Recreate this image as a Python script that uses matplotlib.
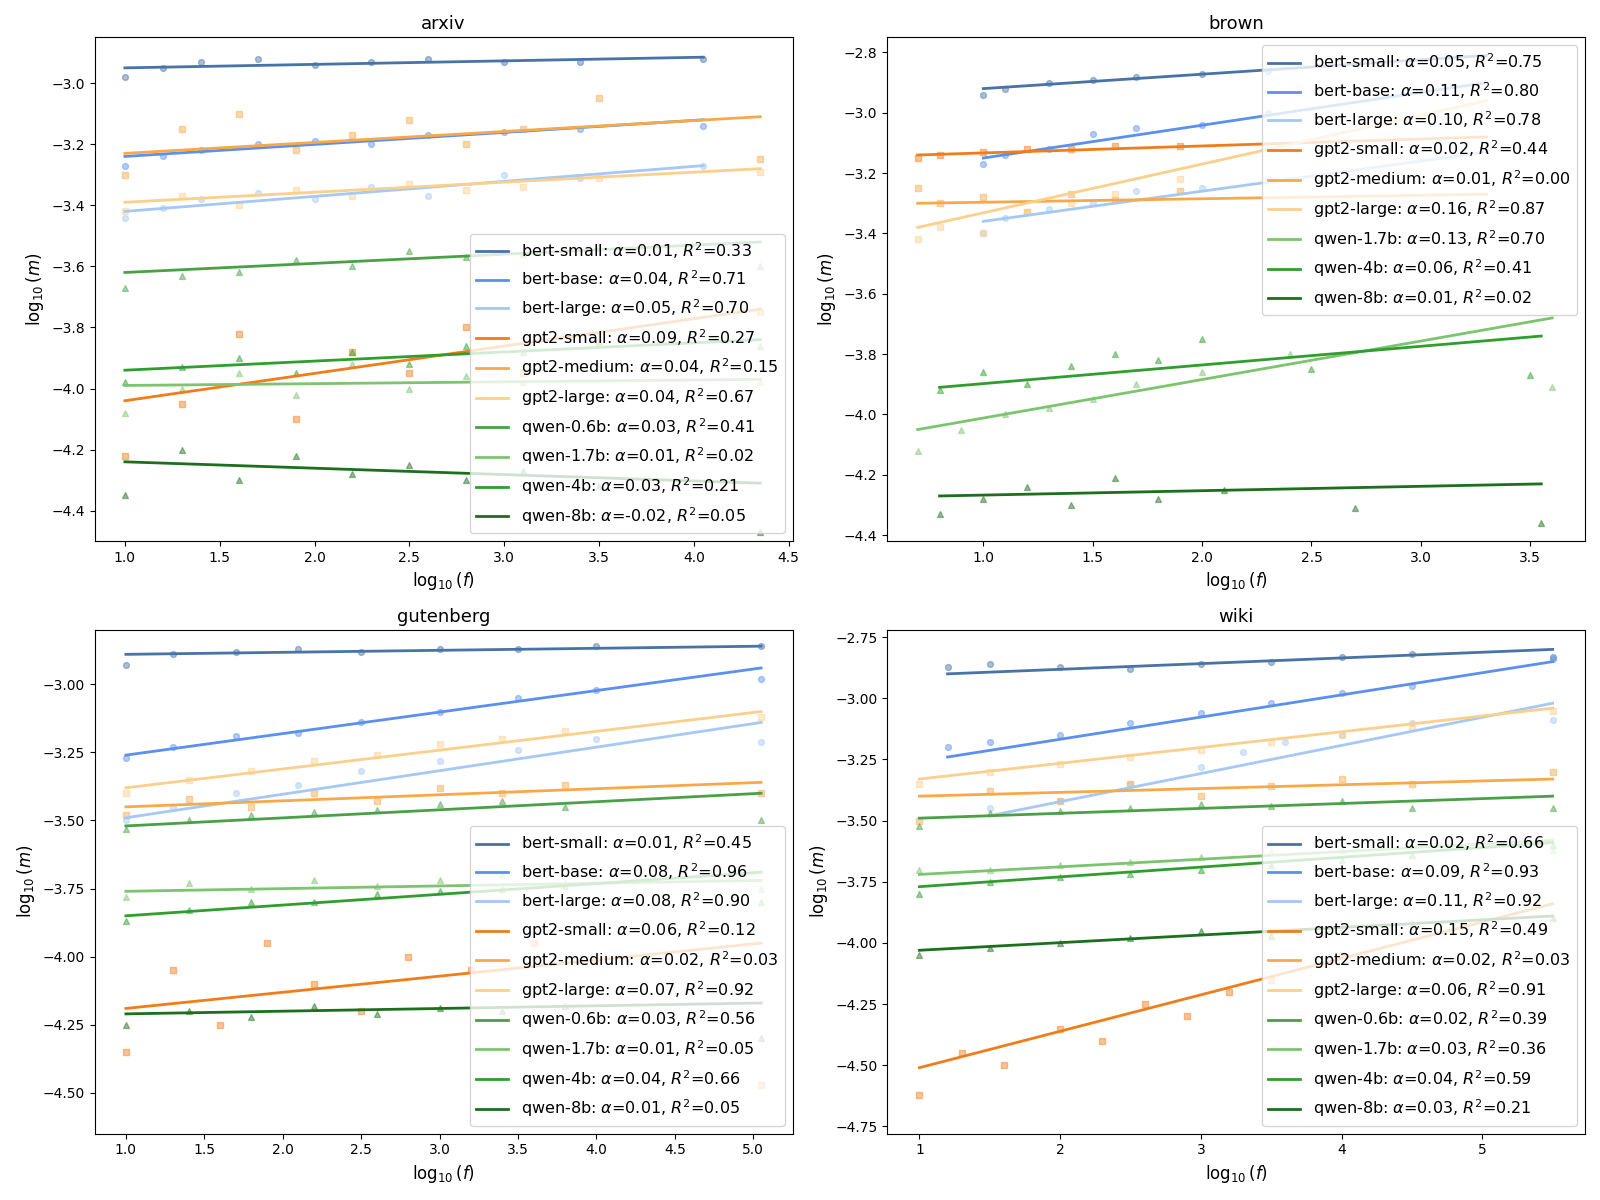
import matplotlib
matplotlib.use("Agg")
import matplotlib.pyplot as plt
import numpy as np

models = ["bert-small","bert-base","bert-large","gpt2-small","gpt2-medium","gpt2-large",
          "qwen-0.6b","qwen-1.7b","qwen-4b","qwen-8b"]
colors = {"bert-small":"#4873a6","bert-base":"#5b8ff0","bert-large":"#a5c8f5",
          "gpt2-small":"#f07d19","gpt2-medium":"#f7a94a","gpt2-large":"#fbcf8c",
          "qwen-0.6b":"#4aa047","qwen-1.7b":"#7cc46e","qwen-4b":"#2f9e2f","qwen-8b":"#1d6e1d"}
markers = {"bert":"o","gpt2":"s","qwen":"^"}

panels = ["arxiv","brown","gutenberg","wiki"]

# fit lines: (x0, x1, y0, y1), alpha, R2
fits = {
 "arxiv": {
  "bert-small":((1.0,4.05,-2.95,-2.915),"0.01","0.33"),
  "bert-base":((1.0,4.05,-3.24,-3.12),"0.04","0.71"),
  "bert-large":((1.0,4.05,-3.42,-3.27),"0.05","0.70"),
  "gpt2-small":((1.0,4.35,-4.04,-3.74),"0.09","0.27"),
  "gpt2-medium":((1.0,4.35,-3.23,-3.11),"0.04","0.15"),
  "gpt2-large":((1.0,4.35,-3.39,-3.28),"0.04","0.67"),
  "qwen-0.6b":((1.0,4.35,-3.62,-3.52),"0.03","0.41"),
  "qwen-1.7b":((1.0,4.35,-3.99,-3.97),"0.01","0.02"),
  "qwen-4b":((1.0,4.35,-3.94,-3.84),"0.03","0.21"),
  "qwen-8b":((1.0,4.35,-4.24,-4.31),"-0.02","0.05")},
 "brown": {
  "bert-small":((1.0,3.3,-2.92,-2.81),"0.05","0.75"),
  "bert-base":((1.0,3.3,-3.15,-2.90),"0.11","0.80"),
  "bert-large":((1.0,3.3,-3.36,-3.13),"0.10","0.78"),
  "gpt2-small":((0.7,3.3,-3.14,-3.08),"0.02","0.44"),
  "gpt2-medium":((0.7,3.3,-3.30,-3.27),"0.01","0.00"),
  "gpt2-large":((0.7,3.3,-3.38,-2.96),"0.16","0.87"),
  "qwen-1.7b":((0.7,3.6,-4.05,-3.68),"0.13","0.70"),
  "qwen-4b":((0.8,3.55,-3.91,-3.74),"0.06","0.41"),
  "qwen-8b":((0.8,3.55,-4.27,-4.23),"0.01","0.02")},
 "gutenberg": {
  "bert-small":((1.0,5.05,-2.89,-2.86),"0.01","0.45"),
  "bert-base":((1.0,5.05,-3.26,-2.94),"0.08","0.96"),
  "bert-large":((1.0,5.05,-3.49,-3.14),"0.08","0.90"),
  "gpt2-small":((1.0,5.05,-4.19,-3.95),"0.06","0.12"),
  "gpt2-medium":((1.0,5.05,-3.45,-3.36),"0.02","0.03"),
  "gpt2-large":((1.0,5.05,-3.38,-3.10),"0.07","0.92"),
  "qwen-0.6b":((1.0,5.05,-3.52,-3.40),"0.03","0.56"),
  "qwen-1.7b":((1.0,5.05,-3.76,-3.72),"0.01","0.05"),
  "qwen-4b":((1.0,5.05,-3.85,-3.69),"0.04","0.66"),
  "qwen-8b":((1.0,5.05,-4.21,-4.17),"0.01","0.05")},
 "wiki": {
  "bert-small":((1.2,5.5,-2.90,-2.80),"0.02","0.66"),
  "bert-base":((1.2,5.5,-3.24,-2.85),"0.09","0.93"),
  "bert-large":((1.5,5.5,-3.48,-3.02),"0.11","0.92"),
  "gpt2-small":((1.0,5.5,-4.51,-3.84),"0.15","0.49"),
  "gpt2-medium":((1.0,5.5,-3.40,-3.33),"0.02","0.03"),
  "gpt2-large":((1.0,5.5,-3.33,-3.04),"0.06","0.91"),
  "qwen-0.6b":((1.0,5.5,-3.49,-3.40),"0.02","0.39"),
  "qwen-1.7b":((1.0,5.5,-3.72,-3.58),"0.03","0.36"),
  "qwen-4b":((1.0,5.5,-3.77,-3.59),"0.04","0.59"),
  "qwen-8b":((1.0,5.5,-4.03,-3.89),"0.03","0.21")},
}

# scatter samples (x list, y list) read approximately
pts = {
 "arxiv": {
  "bert-small":([1.0,1.2,1.4,1.7,2.0,2.3,2.6,3.0,3.4,4.05],[-2.98,-2.95,-2.93,-2.92,-2.94,-2.93,-2.92,-2.93,-2.93,-2.92]),
  "bert-base":([1.0,1.2,1.4,1.7,2.0,2.3,2.6,3.0,3.4,4.05],[-3.27,-3.24,-3.22,-3.20,-3.19,-3.20,-3.17,-3.16,-3.15,-3.14]),
  "bert-large":([1.0,1.2,1.4,1.7,2.0,2.3,2.6,3.0,3.4,4.05],[-3.44,-3.41,-3.38,-3.36,-3.38,-3.34,-3.37,-3.30,-3.31,-3.27]),
  "gpt2-small":([1.0,1.3,1.6,1.9,2.2,2.5,2.8,3.1,3.5,4.35],[-4.22,-4.05,-3.82,-4.10,-3.88,-3.95,-3.80,-3.95,-3.85,-3.75]),
  "gpt2-medium":([1.0,1.3,1.6,1.9,2.2,2.5,2.8,3.1,3.5,4.35],[-3.30,-3.15,-3.10,-3.22,-3.17,-3.12,-3.20,-3.15,-3.05,-3.25]),
  "gpt2-large":([1.0,1.3,1.6,1.9,2.2,2.5,2.8,3.1,3.5,4.35],[-3.42,-3.37,-3.40,-3.35,-3.37,-3.33,-3.35,-3.34,-3.31,-3.29]),
  "qwen-0.6b":([1.0,1.3,1.6,1.9,2.2,2.5,2.8,3.1,3.5,4.35],[-3.67,-3.63,-3.62,-3.58,-3.60,-3.55,-3.57,-3.56,-3.54,-3.60]),
  "qwen-1.7b":([1.0,1.3,1.6,1.9,2.2,2.5,2.8,3.1,3.5,4.35],[-4.08,-4.00,-3.95,-4.02,-3.92,-4.00,-3.96,-3.98,-3.92,-3.98]),
  "qwen-4b":([1.0,1.3,1.6,1.9,2.2,2.5,2.8,3.1,3.5,4.35],[-3.98,-3.93,-3.90,-3.95,-3.88,-3.92,-3.86,-3.88,-3.85,-3.86]),
  "qwen-8b":([1.0,1.3,1.6,1.9,2.2,2.5,2.8,3.1,3.5,4.35],[-4.35,-4.20,-4.30,-4.22,-4.28,-4.25,-4.30,-4.27,-4.32,-4.47])},
 "brown": {
  "bert-small":([1.0,1.1,1.3,1.5,1.7,2.0,2.3],[-2.94,-2.92,-2.90,-2.89,-2.88,-2.87,-2.86]),
  "bert-base":([1.0,1.1,1.3,1.5,1.7,2.0,2.3],[-3.17,-3.14,-3.12,-3.07,-3.05,-3.04,-3.00]),
  "bert-large":([1.0,1.1,1.3,1.5,1.7,2.0,2.3],[-3.40,-3.35,-3.32,-3.30,-3.26,-3.25,-3.22]),
  "gpt2-small":([0.7,0.8,1.0,1.2,1.4,1.6,1.9],[-3.15,-3.14,-3.13,-3.12,-3.12,-3.11,-3.11]),
  "gpt2-medium":([0.7,0.8,1.0,1.2,1.4,1.6,1.9],[-3.25,-3.30,-3.28,-3.33,-3.27,-3.29,-3.26]),
  "gpt2-large":([0.7,0.8,1.0,1.2,1.4,1.6,1.9],[-3.42,-3.38,-3.40,-3.33,-3.30,-3.27,-3.22]),
  "qwen-1.7b":([0.7,0.9,1.1,1.3,1.5,1.7,2.0,2.4,3.6],[-4.12,-4.05,-4.00,-3.98,-3.95,-3.90,-3.86,-3.80,-3.91]),
  "qwen-4b":([0.8,1.0,1.2,1.4,1.6,1.8,2.0,2.5,3.5],[-3.92,-3.86,-3.90,-3.84,-3.80,-3.82,-3.75,-3.85,-3.87]),
  "qwen-8b":([0.8,1.0,1.2,1.4,1.6,1.8,2.1,2.7,3.55],[-4.33,-4.28,-4.24,-4.30,-4.21,-4.28,-4.25,-4.31,-4.36])},
 "gutenberg": {
  "bert-small":([1.0,1.3,1.7,2.1,2.5,3.0,3.5,4.0,5.05],[-2.93,-2.89,-2.88,-2.87,-2.88,-2.87,-2.87,-2.86,-2.86]),
  "bert-base":([1.0,1.3,1.7,2.1,2.5,3.0,3.5,4.0,5.05],[-3.27,-3.23,-3.19,-3.18,-3.14,-3.10,-3.05,-3.02,-2.98]),
  "bert-large":([1.0,1.3,1.7,2.1,2.5,3.0,3.5,4.0,5.05],[-3.50,-3.45,-3.40,-3.37,-3.32,-3.28,-3.24,-3.20,-3.21]),
  "gpt2-small":([1.0,1.3,1.6,1.9,2.2,2.5,2.8,3.2,3.6,5.05],[-4.35,-4.05,-4.25,-3.95,-4.10,-4.20,-4.00,-4.05,-3.95,-4.47]),
  "gpt2-medium":([1.0,1.4,1.8,2.2,2.6,3.0,3.4,3.8,5.05],[-3.48,-3.42,-3.45,-3.40,-3.43,-3.38,-3.40,-3.37,-3.40]),
  "gpt2-large":([1.0,1.4,1.8,2.2,2.6,3.0,3.4,3.8,5.05],[-3.40,-3.35,-3.32,-3.28,-3.26,-3.22,-3.20,-3.17,-3.12]),
  "qwen-0.6b":([1.0,1.4,1.8,2.2,2.6,3.0,3.4,3.8,5.05],[-3.53,-3.50,-3.48,-3.47,-3.46,-3.44,-3.43,-3.45,-3.50]),
  "qwen-1.7b":([1.0,1.4,1.8,2.2,2.6,3.0,3.4,3.8,5.05],[-3.78,-3.73,-3.75,-3.72,-3.74,-3.72,-3.70,-3.73,-3.75]),
  "qwen-4b":([1.0,1.4,1.8,2.2,2.6,3.0,3.4,3.8,5.05],[-3.87,-3.83,-3.80,-3.80,-3.77,-3.76,-3.75,-3.74,-3.80]),
  "qwen-8b":([1.0,1.4,1.8,2.2,2.6,3.0,3.4,3.8,5.05],[-4.25,-4.20,-4.22,-4.18,-4.21,-4.19,-4.20,-4.18,-4.30])},
 "wiki": {
  "bert-small":([1.2,1.5,2.0,2.5,3.0,3.5,4.0,4.5,5.5],[-2.87,-2.86,-2.87,-2.88,-2.86,-2.85,-2.83,-2.82,-2.83]),
  "bert-base":([1.2,1.5,2.0,2.5,3.0,3.5,4.0,4.5,5.5],[-3.20,-3.18,-3.15,-3.10,-3.06,-3.02,-2.98,-2.95,-2.84]),
  "bert-large":([1.5,2.0,2.5,3.0,3.3,3.6,4.0,4.5,5.5],[-3.45,-3.42,-3.35,-3.28,-3.22,-3.18,-3.15,-3.10,-3.09]),
  "gpt2-small":([1.0,1.3,1.6,2.0,2.3,2.6,2.9,3.2,3.5,4.0],[-4.62,-4.45,-4.50,-4.35,-4.40,-4.25,-4.30,-4.20,-4.15,-4.05]),
  "gpt2-medium":([1.0,1.5,2.0,2.5,3.0,3.5,4.0,4.5,5.5],[-3.50,-3.38,-3.42,-3.35,-3.40,-3.36,-3.33,-3.35,-3.30]),
  "gpt2-large":([1.0,1.5,2.0,2.5,3.0,3.5,4.0,4.5,5.5],[-3.35,-3.30,-3.27,-3.24,-3.21,-3.18,-3.15,-3.12,-3.05]),
  "qwen-0.6b":([1.0,1.5,2.0,2.5,3.0,3.5,4.0,4.5,5.5],[-3.52,-3.47,-3.46,-3.45,-3.43,-3.44,-3.42,-3.45,-3.45]),
  "qwen-1.7b":([1.0,1.5,2.0,2.5,3.0,3.5,4.0,4.5,5.5],[-3.70,-3.70,-3.68,-3.67,-3.65,-3.63,-3.62,-3.60,-3.62]),
  "qwen-4b":([1.0,1.5,2.0,2.5,3.0,3.5,4.0,4.5,5.5],[-3.80,-3.75,-3.73,-3.72,-3.70,-3.68,-3.66,-3.64,-3.60]),
  "qwen-8b":([1.0,1.5,2.0,2.5,3.0,3.5,4.0,4.5,5.5],[-4.05,-4.02,-4.00,-3.98,-3.95,-3.97,-3.95,-3.92,-3.90])},
}

legend_loc = {"arxiv":"lower right","brown":"upper right","gutenberg":"lower right","wiki":"lower right"}

fig, axes = plt.subplots(2, 2, figsize=(16, 12), dpi=100)
for ax, name in zip(axes.flat, panels):
    for m in models:
        if m not in fits[name]:
            continue
        (x0, x1, y0, y1), a, r2 = fits[name][m]
        c = colors[m]
        px, py = pts[name][m]
        ax.scatter(px, py, s=18, marker=markers[m.split("-")[0]], color=c, alpha=0.45, edgecolors=c)
        ax.plot([x0, x1], [y0, y1], color=c, lw=2,
                label=f"{m}: $\\alpha$={a}, $R^2$={r2}")
    ax.set_title(name, fontsize=13)
    ax.set_xlabel(r"$\log_{10}(f)$", fontsize=12)
    ax.set_ylabel(r"$\log_{10}(m)$", fontsize=12)
    ax.tick_params(labelsize=10)
    ax.legend(loc=legend_loc[name], fontsize=11.5)

axes[0,0].set_ylim(-4.5, -2.85)
axes[0,0].set_xlim(0.84, 4.52)
axes[0,1].set_ylim(-4.42, -2.75)
axes[0,1].set_xlim(0.56, 3.75)
axes[1,0].set_ylim(-4.65, -2.8)
axes[1,0].set_xlim(0.8, 5.25)
axes[1,1].set_ylim(-4.78, -2.72)
axes[1,1].set_xlim(0.77, 5.73)
axes[1,0].set_yticks([-4.5,-4.25,-4.0,-3.75,-3.5,-3.25,-3.0])
axes[1,1].set_yticks([-4.75,-4.5,-4.25,-4.0,-3.75,-3.5,-3.25,-3.0,-2.75])
fig.tight_layout()
fig.savefig("out.png")
